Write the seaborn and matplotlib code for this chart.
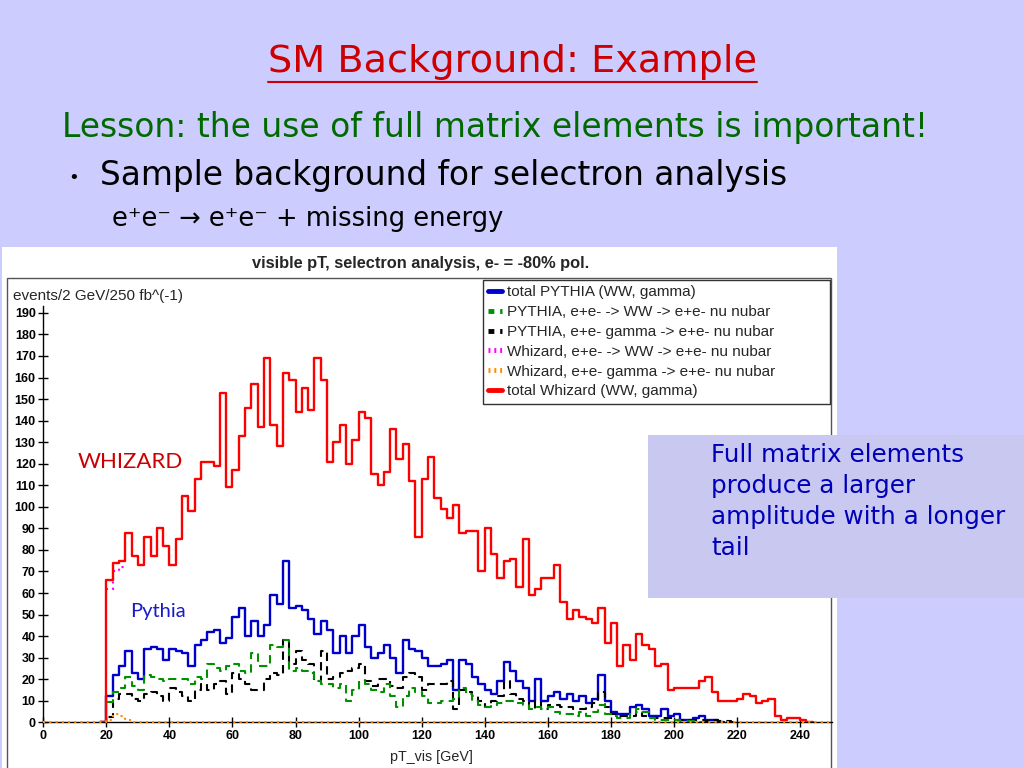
import numpy as np
import pandas as pd
import matplotlib
matplotlib.use("Agg")
import matplotlib.pyplot as plt
import seaborn as sns
from matplotlib.lines import Line2D
from matplotlib.patches import Rectangle

# histogram bins: 2 GeV wide, series start at 20 GeV
bin_width = 2
first_edge = 20

whizard_total = [66, 74, 75, 88, 77, 73, 86, 77, 90, 82,
                 73, 85, 105, 98, 113, 121, 121, 119, 153, 109,
                 117, 133, 146, 157, 137, 169, 138, 128, 162, 159,
                 144, 155, 145, 169, 159, 121, 130, 138, 120, 131,
                 144, 141, 115, 110, 116, 136, 122, 129, 112, 86,
                 113, 123, 104, 99, 95, 101, 88, 89, 89, 70,
                 90, 78, 67, 75, 76, 63, 85, 59, 62, 67,
                 67, 73, 56, 48, 52, 49, 48, 46, 53, 37,
                 46, 26, 36, 29, 41, 36, 34, 26, 27, 15,
                 16, 16, 16, 16, 19, 21, 14, 10, 10, 10,
                 11, 13, 12, 9, 10, 11, 3, 1, 2, 2,
                 1]

pythia_total = [12, 22, 26, 33, 23, 20, 34, 35, 34, 29,
                34, 33, 32, 26, 36, 38, 42, 43, 37, 39,
                49, 53, 40, 47, 40, 45, 59, 55, 75, 53,
                54, 52, 48, 41, 47, 43, 32, 40, 32, 40,
                45, 35, 30, 32, 36, 30, 23, 38, 34, 33,
                30, 26, 26, 27, 29, 15, 29, 27, 21, 18,
                15, 13, 19, 28, 24, 19, 16, 10, 20, 10,
                12, 14, 11, 13, 10, 12, 9, 11, 22, 10,
                5, 4, 4, 7, 8, 6, 3, 3, 6, 3,
                4, 1, 1, 2, 3, 1, 1]

pythia_ww = [9.5, 14, 16, 21, 17, 15, 22, 21, 20, 19,
             20, 20, 20, 18, 21, 20, 27, 25, 24, 26,
             27, 24, 23, 32, 26, 26, 36, 35, 38, 24,
             25, 24, 23, 19, 18, 18, 16, 18, 10, 15,
             19, 18, 15, 14, 18, 12, 7, 12, 16, 14,
             12, 9, 9, 10, 10, 11, 16, 13, 10, 8,
             7, 8, 9, 10, 10, 9, 8, 6, 7, 6,
             7, 5, 4, 4, 3, 5, 3, 5, 8, 4,
             3, 2, 2, 4, 6, 5, 2, 1, 1, 1,
             1, 0.5, 0.5, 0.5]

pythia_gamma = [2.6, 11, 13, 13, 11, 10, 13, 14, 12, 10,
                16, 14, 12, 10, 15, 18, 15, 18, 19, 13,
                23, 20, 18, 15, 15, 20, 23, 22, 38, 27,
                33, 29, 27, 19, 33, 20, 21, 23, 24, 25,
                27, 19, 17, 20, 20, 17, 16, 21, 23, 21,
                15, 18, 18, 18, 19, 6, 15, 14, 12, 10,
                7, 10, 12, 19, 13, 11, 10, 6, 10, 6,
                8, 8, 7, 7, 6, 6, 7, 9, 14, 7,
                4, 3, 3, 3, 5, 3, 2, 2, 2, 2,
                1, 1, 1, 1, 1, 0.5, 1, 0.5, 0.5]

# Whizard WW: only the first bins show, the rest lies under the total
whizard_ww = [62, 70, 72]
# Whizard gamma over the full axis range 0-250 GeV
whizard_gamma_start = 0
whizard_gamma = [0] * 10 + [1, 4, 3, 1] + [0] * 111

x_ticks = list(range(0, 241, 20))
y_ticks = list(range(0, 191, 10))

legend_labels = ["total PYTHIA (WW, gamma)",
                 "PYTHIA, e+e- -> WW -> e+e- nu nubar",
                 "PYTHIA, e+e- gamma -> e+e- nu nubar",
                 "Whizard, e+e- -> WW -> e+e- nu nubar",
                 "Whizard, e+e- gamma -> e+e- nu nubar",
                 "total Whizard (WW, gamma)"]

box_lines = ["Full matrix elements", "produce a larger",
             "amplitude with a longer", "tail"]

slide_bg = "#CCCCFF"

sns.set_theme(style="white")
plt.rcParams['font.family'] = ['DejaVu Sans']


def fx(px):
    return px / 1024


def fy(py):
    return 1 - py / 768


fig = plt.figure(figsize=(10.24, 7.68), dpi=100, facecolor=slide_bg)

# the pasted plot picture and its pad frame
fig.patches.append(Rectangle((fx(2), 0), fx(835), fy(247), transform=fig.transFigure,
                             facecolor="white", edgecolor="none", zorder=-2))
fig.patches.append(Rectangle((fx(7), -0.01), fx(824), fy(278) + 0.01, transform=fig.transFigure,
                             fill=False, edgecolor="#555555", lw=1, zorder=-1))

ax = fig.add_axes([fx(43.3), fy(722.3), fx(250 * 3.153), 193 * 2.155 / 768])
ax.set_facecolor("none")


def draw(vals, start, color, **kw):
    w = [0] + list(vals) + [0]
    edges = [start - bin_width + bin_width * i for i in range(len(w) + 1)]
    df = pd.DataFrame({"pt": [e + bin_width / 2 for e in edges[:-1]], "n": w})
    sns.histplot(data=df, x="pt", weights="n", bins=edges, element="step", fill=False,
                 color=color, ax=ax, **kw)


draw(pythia_total, first_edge, "#0000CC", linewidth=1.7, zorder=3)
draw(pythia_gamma, first_edge, "black", linewidth=1.5, linestyle=(0, (4, 2.5)), zorder=3.1)
draw(pythia_ww, first_edge, "#009000", linewidth=1.5, linestyle=(0, (4, 2.5)), zorder=3.2)
ax.stairs(whizard_ww, first_edge + bin_width * np.arange(len(whizard_ww) + 1), baseline=None,
          color="#FF00FF", linewidth=1.5, linestyle=(0, (1, 2)), zorder=4)
draw(whizard_total, first_edge, "#FF0000", linewidth=1.7, zorder=5)
ax.stairs(whizard_gamma, whizard_gamma_start + bin_width * np.arange(len(whizard_gamma) + 1),
          baseline=None, color="#FF8C00", linewidth=1.5, linestyle=(0, (1, 2)), zorder=6,
          clip_on=False)

ax.set_xlim(0, 250)
ax.set_ylim(0, 193)
ax.set_xticks(x_ticks)
ax.set_yticks(y_ticks)
ax.set_xlabel("")
ax.set_ylabel("")
for s in ["top", "right"]:
    ax.spines[s].set_visible(False)
for s in ["left", "bottom"]:
    ax.spines[s].set_color("black")
    ax.spines[s].set_linewidth(1)
ax.tick_params(direction="inout", length=7, width=1, colors="black", labelsize=9, pad=2,
               left=True, bottom=True)
for lab in ax.get_xticklabels() + ax.get_yticklabels():
    lab.set_family("Liberation Sans")
    lab.set_fontweight("bold")

# ROOT texts
fig.text(fx(421), fy(263), "visible pT, selectron analysis, e- = -80% pol.", ha="center",
         va="center", fontsize=11.8, weight="bold", family="Liberation Sans")
fig.text(fx(13), fy(296), "events/2 GeV/250 fb^(-1)", ha="left", va="center",
         fontsize=11, family="Liberation Sans")
fig.text(fx(431), fy(757), "pT_vis [GeV]", ha="center", va="center",
         fontsize=10.3, family="Liberation Sans")

handles = [Line2D([], [], color="#0000CC", lw=3.5),
           Line2D([], [], color="#009000", lw=3.5, linestyle=(0, (1.2, 1.2))),
           Line2D([], [], color="black", lw=3.5, linestyle=(0, (1.2, 1.2))),
           Line2D([], [], color="#FF00FF", lw=3.5, linestyle=(0, (0.4, 0.8))),
           Line2D([], [], color="#FF8C00", lw=3.5, linestyle=(0, (0.4, 0.8))),
           Line2D([], [], color="#FF0000", lw=3.5)]
leg = fig.legend(handles, legend_labels, loc="upper left",
                 bbox_to_anchor=(fx(483), fy(405), fx(347), fy(280) - fy(405)),
                 bbox_transform=fig.transFigure, mode="expand", borderaxespad=0,
                 fancybox=False, framealpha=1, edgecolor="#333333", handlelength=0.9,
                 handletextpad=0.3, labelspacing=0.38, borderpad=0.35,
                 prop={"family": "Liberation Sans", "size": 11})
leg.get_frame().set_linewidth(1)

# slide texts
title = fig.text(0.5, fy(62), "SM Background: Example", ha="center", va="center",
                 color="#CC0000", fontsize=27.5)
fig.text(fx(62), fy(128), "Lesson: the use of full matrix elements is important!",
         ha="left", va="center", color="#006A00", fontsize=23.7)
fig.text(fx(68), fy(178), "•", ha="left", va="center", color="black", fontsize=13)
fig.text(fx(100), fy(176), "Sample background for selectron analysis",
         ha="left", va="center", color="black", fontsize=23.6)
fig.text(fx(112), fy(219), "e⁺e⁻ → e⁺e⁻ + missing energy",
         ha="left", va="center", color="black", fontsize=18.5)

fig.text(fx(78), fy(462), "WHIZARD", ha="left", va="center", color="#CC0000",
         family="Lato", fontsize=16)
fig.text(fx(130), fy(612), "Pythia", ha="left", va="center", color="#1A1AC8",
         family="Lato", fontsize=14.5)

fig.patches.append(Rectangle((fx(648), fy(598)), fx(380), fy(435) - fy(598),
                             transform=fig.transFigure, facecolor="#C8C8F0",
                             edgecolor="none", zorder=2))
for i, line in enumerate(box_lines):
    fig.text(fx(711), fy(455 + 31 * i), line, ha="left", va="center", color="#0000B8",
             fontsize=17.7, zorder=3)

# underline for the slide title
fig.canvas.draw()
bb = title.get_window_extent()
fig.add_artist(Line2D([bb.x0 / 1024, bb.x1 / 1024], [fy(82), fy(82)],
                      transform=fig.transFigure, color="#CC0000", lw=1.5))

fig.savefig("out.png", dpi=100, facecolor=slide_bg)
